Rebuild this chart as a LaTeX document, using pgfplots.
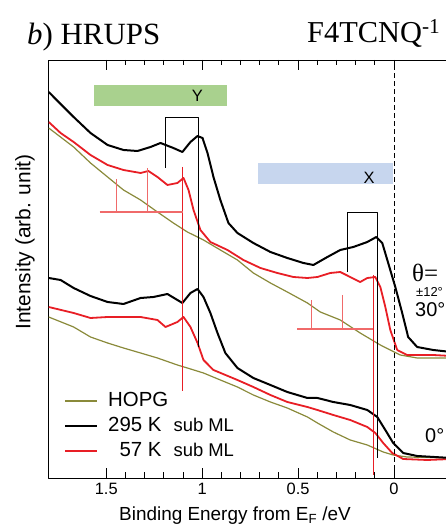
\documentclass[border=0pt]{standalone}
\usepackage{fontspec}
\setmainfont{Liberation Sans}
\newfontfamily\timesf{Liberation Serif}
\usepackage{pgfplots}
\pgfplotsset{compat=1.18}
\definecolor{hopg}{HTML}{8A8A3A}
\definecolor{myred}{HTML}{E81E25}
\definecolor{combred}{HTML}{F06A6A}
\definecolor{ygreen}{HTML}{A9D18E}
\definecolor{xblue}{HTML}{C7D6EE}
\newcommand\subfont{\fontsize{18.5}{22}\selectfont}

% 30 deg spectra
\pgfplotstableread{
x y
1.800 386
1.738 374
1.670 361
1.582 345
1.493 333
1.410 328
1.337 327
1.269 331
1.217 335
1.150 330
1.103 326
1.061 336
1.024 342
0.998 340
0.972 325
0.941 301
0.905 278
0.863 255
0.816 245
0.733 235
0.644 226
0.556 220
0.472 215
0.420 213
0.347 221
0.280 228
0.212 231
0.139 236
0.092 241
0.061 235
0.030 215
-0.007 191
-0.043 165
-0.074 141
-0.121 131
-0.205 128
-0.300 126
}\blackA
\pgfplotstableread{
x y
1.800 356
1.738 345
1.670 336
1.582 323
1.493 313
1.410 308
1.321 305
1.280 307
1.233 301
1.181 293
1.129 295
1.097 300
1.071 288
1.045 268
1.009 248
0.957 236
0.868 228
0.785 218
0.696 210
0.608 205
0.524 201
0.451 200
0.399 201
0.332 205
0.280 206
0.228 201
0.176 196
0.139 200
0.097 201
0.071 191
0.045 171
0.019 148
-0.017 128
-0.069 123
-0.205 123
-0.300 122
}\redA
\pgfplotstableread{
x y
1.800 350
1.670 331
1.582 315
1.493 301
1.410 288
1.321 278
1.233 266
1.150 255
1.077 246
0.993 238
0.905 228
0.816 218
0.733 205
0.644 195
0.556 186
0.451 175
0.384 166
0.280 158
0.176 145
0.071 133
-0.033 123
-0.121 120
-0.300 120
}\hopgA
% 0 deg spectra
\pgfplotstableread{
x y
1.800 200
1.738 198
1.670 190
1.582 182
1.493 176
1.410 174
1.321 180
1.254 181
1.181 184
1.129 178
1.103 175
1.061 185
1.024 189
0.993 181
0.957 165
0.920 145
0.879 125
0.816 110
0.733 100
0.644 93
0.556 86
0.451 80
0.399 80
0.316 76
0.228 73
0.139 68
0.087 61
0.045 48
0.004 35
-0.048 25
-0.121 22
-0.300 20
}\blackB
\pgfplotstableread{
x y
1.800 171
1.670 165
1.582 160
1.493 161
1.410 161
1.321 161
1.233 158
1.191 151
1.129 156
1.097 161
1.061 151
1.024 135
0.993 118
0.941 108
0.816 98
0.733 91
0.644 83
0.556 76
0.451 71
0.399 68
0.316 63
0.228 58
0.139 51
0.097 45
0.056 35
0.009 25
-0.048 19
-0.173 18
-0.300 19
}\redB
\pgfplotstableread{
x y
1.800 161
1.670 151
1.582 141
1.493 135
1.410 130
1.321 125
1.233 120
1.129 113
1.077 110
0.993 105
0.905 98
0.816 91
0.733 83
0.644 76
0.556 70
0.451 61
0.399 55
0.316 46
0.228 38
0.139 33
0.056 26
0.004 23
-0.069 21
-0.300 20
}\hopgB

\begin{document}
\begin{tikzpicture}
\useasboundingbox (0,0) rectangle (446bp,525bp);
\begin{axis}[
  at={(48.7bp,47bp)}, anchor=south west,
  scale only axis, width=402.8bp, height=418bp,
  x dir=reverse, xmin=-0.3, xmax=1.8, ymin=0, ymax=418,
  xtick={0,0.5,1,1.5}, xticklabels={0,0.5,1,1.5}, minor x tick num=4,
  ytick=\empty,
  major tick length=10bp, minor tick length=5.5bp,
  tick style={black, line width=0.8bp},
  axis line style={line width=0.9bp},
  ticklabel style={font=\fontsize{16.5}{18}\selectfont, /pgf/number format/assume math mode=true},
  xticklabel style={yshift=-2bp},
  legend style={at={(0.038,0.21)}, anchor=north west, draw=none, fill=none,
    font=\fontsize{20.5}{24}\selectfont, row sep=4bp, column sep=9bp, inner sep=0pt,
    nodes={inner sep=1bp, text height=15bp, text depth=4bp}},
  legend cell align=left,
  legend image code/.code={\draw[#1] (0bp,0bp) -- (32bp,0bp);},
  line join=round]

% shaded regions
\fill[ygreen] (axis cs:1.566,372) rectangle (axis cs:0.868,393);
\node[font=\fontsize{16.5}{18}\selectfont] at (axis cs:1.025,382) {Y};
\fill[xblue] (axis cs:0.707,294) rectangle (axis cs:0.004,315);
\node[font=\fontsize{16.5}{18}\selectfont] at (axis cs:0.129,300) {X};

\addplot[hopg, line width=1.2bp, forget plot] table {\hopgA};
\addplot[myred, line width=1.8bp, forget plot] table {\redA};
\addplot[black, line width=2bp, forget plot] table {\blackA};
\addplot[hopg, line width=1.2bp, forget plot] table {\hopgB};
\addplot[myred, line width=1.8bp, forget plot] table {\redB};
\addplot[black, line width=2bp, forget plot] table {\blackB};

% Fermi level
\draw[black, line width=0.9bp, dash pattern=on 5bp off 3bp] (axis cs:0,0) -- (axis cs:0,418);

% brackets
\draw[black, line width=0.9bp] (axis cs:1.191,310) -- (axis cs:1.191,361) -- (axis cs:1.019,361) -- (axis cs:1.019,131);
\draw[black, line width=0.9bp] (axis cs:0.243,206) -- (axis cs:0.243,266) -- (axis cs:0.087,266) -- (axis cs:0.087,20);
\draw[myred, line width=1bp] (axis cs:1.101,311) -- (axis cs:1.101,87);
\draw[combred, line width=1.1bp] (axis cs:1.535,266) -- (axis cs:1.101,266)
  (axis cs:1.446,299) -- (axis cs:1.446,266) (axis cs:1.285,310) -- (axis cs:1.285,266);
\draw[myred, line width=1bp] (axis cs:0.108,203) -- (axis cs:0.108,3);
\draw[combred, line width=1.1bp] (axis cs:0.504,149) -- (axis cs:0.108,149)
  (axis cs:0.431,178) -- (axis cs:0.431,149) (axis cs:0.270,183) -- (axis cs:0.270,149);

\addlegendimage{hopg, line width=1.2bp}
\addlegendentry{HOPG}
\addlegendimage{black, line width=2bp}
\addlegendentry{295 K\hspace{12bp}{\subfont sub ML}}
\addlegendimage{myred, line width=2bp}
\addlegendentry{\hphantom{2}57 K\hspace{12bp}{\subfont sub ML}}
\end{axis}

\node[anchor=base west, inner sep=0, font=\timesf\fontsize{31}{34}\selectfont] at (27bp,480bp) {\textit{b}) HRUPS};
\node[anchor=base west, inner sep=0, font=\timesf\fontsize{30.5}{34}\selectfont] at (307bp,482bp) {F4TCNQ\textsuperscript{-1}};
\node[anchor=base west, inner sep=0, font=\timesf\fontsize{25}{28}\selectfont] at (412bp,243bp) {θ=};
\node[anchor=base west, inner sep=0, font=\fontsize{13}{15}\selectfont] at (416bp,228bp) {±12°};
\node[anchor=base west, inner sep=0, font=\fontsize{20}{22}\selectfont] at (415bp,208bp) {30°};
\node[anchor=base west, inner sep=0, font=\fontsize{20}{22}\selectfont] at (425bp,82bp) {0°};
\node[rotate=90, font=\fontsize{21}{24}\selectfont] at (25bp,283bp) {Intensity (arb. unit)};
\node[anchor=base, inner sep=0, font=\fontsize{19}{22}\selectfont] at (235bp,5bp) {Binding Energy from E\textsubscript{F} /eV};
\end{tikzpicture}
\end{document}
